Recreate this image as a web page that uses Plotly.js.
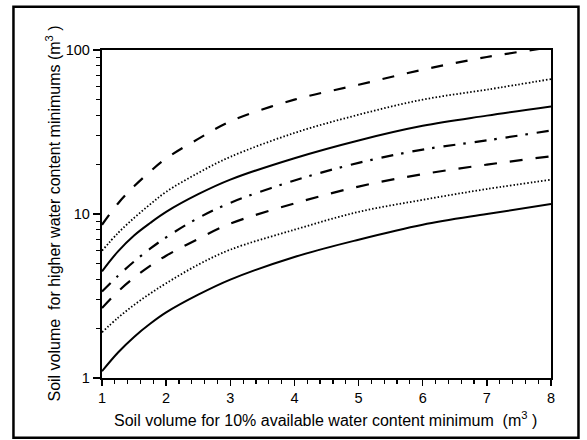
<!DOCTYPE html>
<html>
<head>
<meta charset="utf-8">
<script src="https://cdn.plot.ly/plotly-3.0.1.min.js"></script>
<style>
html,body{margin:0;padding:0;background:#fff;}
#chart{width:587px;height:440px;}
</style>
</head>
<body>
<div id="chart"></div>
<script>
// x: soil volume for 10% available water content minimum (m3)
var xVals = [1, 1.25, 1.5, 1.75, 2, 2.5, 3, 4, 5, 6, 7, 8];

// curves, bottom to top (soil volume for higher water content minimums, m3)
var curveSolidLow = [1.10, 1.43, 1.78, 2.14, 2.51, 3.22, 3.98, 5.47, 6.97, 8.6, 10.0, 11.5];
var curveDotLow   = [1.90, 2.33, 2.79, 3.27, 3.78, 4.91, 6.06, 8.02, 10.3, 12.2, 14.2, 16.2];
var curveDashLow  = [2.67, 3.37, 4.09, 4.83, 5.57, 7.05, 8.73, 11.6, 14.7, 17.5, 20.0, 22.5];
var curveDashDot  = [3.37, 4.20, 5.13, 6.14, 7.21, 9.45, 11.7, 16.0, 20.5, 24.7, 28.1, 32.3];
var curveSolidMid = [4.47, 5.92, 7.4, 8.81, 10.3, 13.2, 16.2, 21.9, 28.1, 34.5, 39.8, 45.3];
var curveDotHigh  = [5.97, 7.66, 9.46, 11.45, 13.65, 17.8, 22.3, 31.2, 40.3, 49.8, 57.3, 66.5];
var curveDashHigh = [8.6, 11.6, 14.75, 18.15, 21.8, 28.7, 36.7, 49.8, 61.4, 75.8, 90.6, 104];

var xTickVals = [1, 2, 3, 4, 5, 6, 7, 8];
var yTickVals = [1, 10, 100];
var yTickText = ["1", "10", "100"];
var yMinorVals = [2,3,4,5,6,7,8,9,20,30,40,50,60,70,80,90];

var xTitle = 'Soil volume for 10% available water content minimum  (m<sup>3</sup> )';
var yTitle = 'Soil volume  for higher water content minimums (m<sup>3</sup> )';

var FONT = "Liberation Sans, Arial, Helvetica, sans-serif";

function tr(y, dash, w) {
  return {x: xVals, y: y, type: 'scatter', mode: 'lines',
          line: {color: '#000', width: w, dash: dash, shape: 'spline', smoothing: 1},
          hoverinfo: 'skip', showlegend: false};
}

var data = [
  tr(curveSolidLow, 'solid', 2),
  tr(curveDotLow, '1.5px,2px', 1.8),
  tr(curveDashLow, '13px,13px', 2.2),
  tr(curveDashDot, '12px,8px,2.5px,9px', 2.2),
  tr(curveSolidMid, 'solid', 2),
  tr(curveDotHigh, '1.5px,2px', 1.8),
  tr(curveDashHigh, '12px,13px', 2.2)
];

var layout = {
  width: 587, height: 440,
  margin: {l: 102, r: 35.5, t: 50, b: 61.7, pad: 0},
  paper_bgcolor: '#fff', plot_bgcolor: '#fff',
  font: {family: FONT, size: 14, color: '#000'},
  xaxis: {
    range: [1, 8], tickmode: 'array', tickvals: xTickVals,
    ticks: 'outside', ticklen: 6, tickwidth: 1.5, tickcolor: '#000',
    showline: true, linewidth: 2, linecolor: '#000', mirror: true,
    showgrid: false, zeroline: false,
    tickfont: {family: FONT, size: 14.5, color: '#000'},
    minor: {dtick: 0.2, ticks: 'outside', ticklen: 4, tickwidth: 1.2, tickcolor: '#000', showgrid: false}
  },
  yaxis: {
    type: 'log', range: [0, 2], tickmode: 'array', tickvals: yTickVals, ticktext: yTickText,
    ticks: 'outside', ticklen: 7, tickwidth: 1.5, tickcolor: '#000',
    showline: true, linewidth: 2.2, linecolor: '#000', mirror: true,
    showgrid: false, zeroline: false,
    tickfont: {family: FONT, size: 14.5, color: '#000'},
    minor: {tickmode: 'array', tickvals: yMinorVals, ticks: 'outside', ticklen: 4, tickwidth: 1.2, tickcolor: '#000', showgrid: false}
  },
  annotations: [
    {text: xTitle,
     xref: 'paper', yref: 'paper', x: 0.4976, y: -0.124, xanchor: 'center', yanchor: 'middle',
     showarrow: false, font: {family: FONT, size: 16, color: '#000'}},
    {text: yTitle,
     xref: 'paper', yref: 'paper', x: -0.108, y: 0.5, xanchor: 'center', yanchor: 'middle',
     textangle: -90, showarrow: false, font: {family: FONT, size: 16, color: '#000'}}
  ],
  shapes: [
    {type: 'rect', xref: 'paper', yref: 'paper', x0: -0.1972, x1: 1.0612, y0: -0.182, y1: 1.132,
     line: {color: '#000', width: 2.5}, fillcolor: 'rgba(0,0,0,0)', layer: 'below'}
  ]
};

Plotly.newPlot('chart', data, layout, {staticPlot: true, displayModeBar: false});
</script>
</body>
</html>
